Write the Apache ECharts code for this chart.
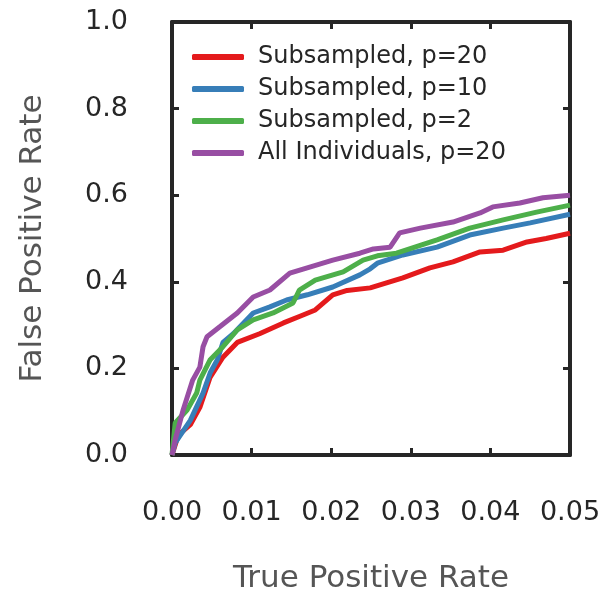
<!DOCTYPE html>
<html>
<head>
<meta charset="utf-8">
<script src="https://cdn.jsdelivr.net/npm/echarts@6/dist/echarts.min.js"></script>
<style>
  html, body { margin: 0; padding: 0; background: #fff; }
  #chart { width: 603px; height: 596px; }
</style>
</head>
<body>
<div id="chart"></div>
<script>
// series names (legend order)
var seriesNames = ["Subsampled, p=20", "Subsampled, p=10", "Subsampled, p=2", "All Individuals, p=20"];
var seriesColors = ["#e41a1c", "#377eb8", "#4daf4a", "#984ea3"];

// Subsampled, p=20
var xSub20 = [0, 0.0008, 0.0023, 0.0035, 0.0048, 0.0064, 0.0082, 0.011, 0.014, 0.016, 0.018, 0.0202, 0.022, 0.0249, 0.029, 0.0324, 0.0353, 0.0387, 0.0416, 0.0446, 0.047, 0.05];
var ySub20 = [0, 0.046, 0.07, 0.11, 0.18, 0.226, 0.26, 0.28, 0.305, 0.32, 0.335, 0.37, 0.38, 0.386, 0.409, 0.432, 0.446, 0.469, 0.473, 0.492, 0.50, 0.512];

// Subsampled, p=10
var xSub10 = [0, 0.0004, 0.0023, 0.0039, 0.0048, 0.0057, 0.0064, 0.0077, 0.0102, 0.0123, 0.0144, 0.017, 0.0202, 0.0236, 0.0249, 0.0258, 0.029, 0.0333, 0.0374, 0.0416, 0.045, 0.05];
var ySub10 = [0, 0.028, 0.08, 0.143, 0.19, 0.22, 0.26, 0.28, 0.328, 0.342, 0.358, 0.37, 0.388, 0.416, 0.43, 0.443, 0.462, 0.48, 0.508, 0.524, 0.536, 0.556];

// Subsampled, p=2
var xSub2 = [0, 0.0004, 0.0019, 0.0031, 0.0035, 0.0048, 0.0064, 0.0082, 0.0102, 0.0127, 0.0152, 0.016, 0.018, 0.0215, 0.024, 0.0258, 0.0282, 0.0333, 0.0374, 0.0416, 0.0458, 0.05];
var ySub2 = [0, 0.074, 0.104, 0.143, 0.173, 0.22, 0.25, 0.289, 0.312, 0.328, 0.351, 0.381, 0.404, 0.423, 0.45, 0.46, 0.466, 0.497, 0.524, 0.543, 0.561, 0.577];

// All Individuals, p=20
var xAll20 = [0, 0.0004, 0.0014, 0.0026, 0.0035, 0.0039, 0.0044, 0.006, 0.0082, 0.0102, 0.0123, 0.0148, 0.0173, 0.0202, 0.0236, 0.0253, 0.0274, 0.0286, 0.0312, 0.0353, 0.0387, 0.0403, 0.0437, 0.0466, 0.05];
var yAll20 = [0, 0.035, 0.104, 0.173, 0.203, 0.25, 0.273, 0.296, 0.328, 0.365, 0.381, 0.42, 0.434, 0.45, 0.466, 0.476, 0.48, 0.513, 0.524, 0.538, 0.559, 0.573, 0.582, 0.594, 0.60];

function pairs(xs, ys) {
  return xs.map(function (x, i) { return [x, ys[i]]; });
}

var myChart = echarts.init(document.getElementById("chart"));
var axisColor = "#262626";
var font = "DejaVu Sans";

// shared look for the four sides of the box: heavy line, ticks pointing in
var boxAxis = {
  axisLine: { show: true, onZero: false, lineStyle: { color: axisColor, width: 4 } },
  axisTick: { show: true, inside: true, length: 7, lineStyle: { color: axisColor, width: 3 } },
  splitLine: { show: false }
};

var allData = [pairs(xSub20, ySub20), pairs(xSub10, ySub10), pairs(xSub2, ySub2), pairs(xAll20, yAll20)];

myChart.setOption({
  animation: false,
  backgroundColor: "#fff",
  color: seriesColors,
  grid: { left: 172, right: 33, top: 22, bottom: 141, outerBoundsMode: "none", containLabel: false },
  legend: {
    data: seriesNames,
    orient: "vertical",
    left: 187,
    top: 40,
    icon: "roundRect",
    itemWidth: 52,
    itemHeight: 6,
    itemGap: 8,
    textStyle: { fontFamily: font, fontSize: 24, color: axisColor, padding: [0, 0, 0, 9] }
  },
  xAxis: [
    Object.assign({
      type: "value", min: 0, max: 0.05, interval: 0.01, position: "bottom",
      name: "True Positive Rate", nameLocation: "middle", nameGap: 108,
      nameTextStyle: { fontFamily: font, fontSize: 31, color: "#555555" },
      axisLabel: { margin: 44, fontFamily: font, fontSize: 27, color: axisColor,
        formatter: function (v) { return v.toFixed(2); } }
    }, boxAxis),
    Object.assign({
      type: "value", min: 0, max: 0.05, interval: 0.01, position: "top",
      axisLabel: { show: false }
    }, boxAxis)
  ],
  yAxis: [
    Object.assign({
      type: "value", min: 0, max: 1, interval: 0.2, position: "left",
      name: "False Positive Rate", nameLocation: "middle", nameGap: 124,
      nameTextStyle: { fontFamily: font, fontSize: 31, color: "#555555" },
      axisLabel: { margin: 44, fontFamily: font, fontSize: 27, color: axisColor,
        formatter: function (v) { return v.toFixed(1); } }
    }, boxAxis),
    Object.assign({
      type: "value", min: 0, max: 1, interval: 0.2, position: "right",
      axisLabel: { show: false }
    }, boxAxis)
  ],
  series: seriesNames.map(function (name, i) {
    return {
      name: name,
      type: "line",
      xAxisIndex: 0,
      yAxisIndex: 0,
      showSymbol: false,
      symbol: "none",
      lineStyle: { width: 5, color: seriesColors[i] },
      data: allData[i]
    };
  })
});
</script>
</body>
</html>
